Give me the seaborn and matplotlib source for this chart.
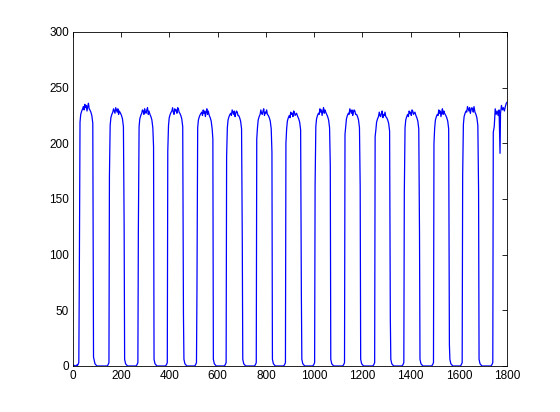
import numpy as np
import pandas as pd
import matplotlib as mpl
import matplotlib.pyplot as plt
import seaborn as sns

# pulse edges (sample units on the x axis)
rise_x = [26, 151, 271, 393, 514, 637, 762, 883, 1004, 1128, 1253, 1374, 1497, 1616, 1743]
fall_x = [84, 211, 333, 457, 579, 701, 824, 946, 1066, 1190, 1315, 1436, 1560, 1681]
# plateau level of each pulse
levels = [232, 229, 228, 229, 227, 227, 227, 226, 228, 228, 225, 227, 227, 230]
# intermediate sample caught on each rising / falling edge
rise_mid = [75, 171, 122, 193, 68, 188, 204, 200, 162, 208, 206, 155, 200, 171, 210]
fall_mid = [8, 125, 197, 46, 204, 113, 192, 65, 180, 161, 43, 120, 19, 158]

# shape of a pulse top, relative to its level
head_dx = [3, 6, 10, 14]
head_dy = [-13, -6, -3, -1]
tail_dx = [-14, -10, -6, -2]
tail_dy = [-2, -4, -7, -14]
top_noise = [1, -2, 3, 0, 2, -3, 1, 4, -1, 2, 0, -2, 3, 1, -1, 2, -3, 0, 2, 1,
             -2, 3, 0, -1, 2, 4, -2, 1, 0, 3, -1, -3, 2, 0, 1, -2, 3, 2, -1, 0]
# shape of the low gaps
low_after_dx = [3, 7, 11, 15]
low_after_y = [6, 2, 1, 0]
low_before_dx = [-10, -6, -2]
low_before_y = [0, 1, 3]

# last, unfinished pulse
last_x = [1747, 1751, 1755, 1759, 1763, 1767, 1771, 1773, 1777, 1781, 1785, 1789, 1793, 1797, 1800]
last_y = [215, 231, 226, 229, 225, 230, 191, 227, 234, 230, 232, 229, 233, 236, 237]

xs = [0, 10, 18]
ys = [1, 0, 1]
k = 0
for i, r in enumerate(rise_x):
    lv = levels[min(i, len(levels) - 1)]
    xs += [r + d for d in low_before_dx]
    ys += low_before_y
    xs.append(r)
    ys.append(rise_mid[i])
    if i == len(fall_x):
        xs += last_x
        ys += last_y
        break
    f = fall_x[i]
    xs += [r + d for d in head_dx]
    ys += [lv + d for d in head_dy]
    for x in range(r + 17, f - 16, 3):
        xs.append(x)
        ys.append(lv + top_noise[k % len(top_noise)])
        k += 1
    xs += [f + d for d in tail_dx]
    ys += [lv + d for d in tail_dy]
    xs.append(f + 1)
    ys.append(fall_mid[i])
    xs += [f + d for d in low_after_dx]
    ys += low_after_y

df = pd.DataFrame({"t": xs, "v": ys})

sns.set_style("white")
mpl.rcParams.update({
    "font.family": ["Liberation Sans", "DejaVu Sans"],
    "font.size": 8.5,
    "xtick.direction": "in",
    "ytick.direction": "in",
    "xtick.major.size": 3.5,
    "ytick.major.size": 3.5,
    "xtick.color": "black",
    "ytick.color": "black",
    "axes.edgecolor": "black",
    "axes.linewidth": 0.6,
})

fig = plt.figure(figsize=(5.6, 4.12), dpi=100)
ax = fig.add_axes([0.1304, 0.1117, 0.775, 0.8107])
sns.lineplot(data=df, x="t", y="v", ax=ax, color=(0, 0, 1), linewidth=0.9,
             sort=False, estimator=None)
ax.set_xlim(0, 1800)
ax.set_ylim(0, 300)
ax.set_xticks(np.arange(0, 1801, 200))
ax.set_yticks(np.arange(0, 301, 50))
ax.set_xlabel("")
ax.set_ylabel("")
ax.tick_params(top=True, right=True, width=0.6, pad=3)
for s in ax.spines.values():
    s.set_visible(True)

plt.savefig("out.png", dpi=100)
plt.close()
